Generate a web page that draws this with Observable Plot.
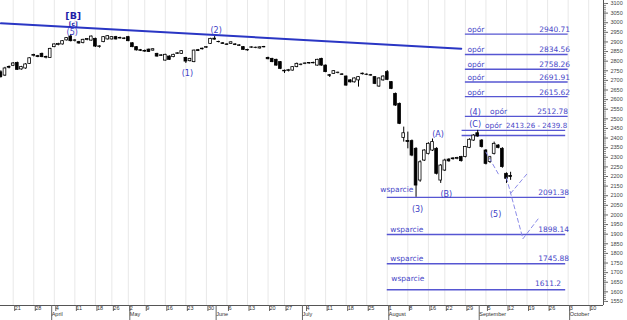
<!DOCTYPE html>
<html><head><meta charset="utf-8">
<script src="https://cdn.jsdelivr.net/npm/d3@7"></script>
<script src="https://cdn.jsdelivr.net/npm/@observablehq/plot@0.6"></script>
<style>
html,body{margin:0;padding:0;background:#fff;}
#chart{width:627px;height:320px;overflow:hidden;}
</style></head><body><div id="chart"></div>
<script>
// ---------- trading calendar (GPW 2011) ----------
const holidays = ["2011-04-22","2011-04-25","2011-05-03","2011-06-23","2011-08-15"];
const days = d3.timeDay.range(new Date(2011,2,16), new Date(2011,9,15))
  .filter(d => d.getDay() !== 0 && d.getDay() !== 6)
  .map(d3.timeFormat("%Y-%m-%d"))
  .filter(s => !holidays.includes(s));
const J = new Map(days.map((s, i) => [s, i]));
const jx = s => J.get(s);

// ---------- OHLC (from 2011-03-16, 125 sessions) ----------
const open  = [2742,2725,2770,2776,2790,2757,2762,2786,2828,2826,2838,2818,2817,2873,2884,2887,2908,2928,2906,2899,2894,2910,2907,2916,2874,2899,2913,2913,2925,2921,2918,2925,2893,2873,2857,2853,2860,2855,2838,2830,2803,2824,2821,2838,2838,2817,2800,2795,2857,2862,2870,2890,2917,2900,2893,2887,2890,2887,2882,2873,2858,2870,2869,2866,2872,2817,2812,2807,2795,2750,2749,2751,2769,2780,2786,2788,2791,2777,2812,2777,2727,2734,2738,2731,2720,2700,2690,2700,2732,2730,2727,2717,2668,2700,2743,2691,2630,2578,2401,2385,2384,2344,2179,2283,2318,2335,2344,2179,2231,2288,2290,2292,2301,2301,2349,2387,2425,2387,2335,2275,2318,2361,2344,2214,2203];
const high  = [2750,2768,2775,2793,2795,2773,2787,2818,2836,2830,2842,2826,2867,2890,2893,2907,2923,2939,2912,2903,2914,2918,2931,2920,2880,2928,2933,2928,2929,2925,2922,2929,2896,2876,2861,2858,2863,2865,2841,2834,2836,2828,2836,2844,2855,2820,2815,2858,2861,2868,2876,2919,2928,2904,2897,2891,2901,2891,2886,2876,2862,2875,2873,2875,2877,2821,2815,2810,2798,2754,2757,2772,2790,2786,2791,2793,2795,2810,2815,2780,2731,2751,2743,2735,2723,2704,2713,2720,2738,2734,2731,2720,2713,2724,2751,2694,2634,2582,2457,2431,2390,2350,2282,2340,2376,2395,2350,2262,2290,2293,2298,2300,2305,2357,2396,2418,2440,2392,2340,2305,2379,2366,2350,2219,2222];
const low   = [2712,2720,2760,2772,2752,2753,2758,2783,2822,2818,2818,2812,2815,2870,2880,2884,2905,2900,2900,2888,2890,2906,2904,2871,2868,2896,2910,2910,2910,2915,2912,2901,2870,2853,2850,2846,2845,2852,2821,2825,2800,2804,2818,2835,2835,2788,2796,2792,2850,2858,2866,2887,2910,2895,2887,2882,2887,2881,2877,2856,2852,2866,2865,2863,2869,2807,2792,2774,2756,2736,2744,2748,2766,2776,2782,2784,2786,2774,2774,2740,2715,2731,2734,2726,2670,2686,2686,2665,2728,2725,2722,2678,2664,2696,2699,2652,2565,2470,2379,2344,2303,2092,2170,2278,2312,2330,2208,2164,2226,2274,2285,2287,2275,2297,2345,2383,2404,2348,2260,2268,2312,2344,2243,2164,2180];
const close = [2717,2762,2766,2788,2755,2769,2783,2815,2832,2822,2821,2822,2864,2887,2889,2904,2920,2904,2908,2892,2911,2915,2928,2876,2877,2925,2930,2925,2913,2918,2916,2904,2873,2856,2854,2850,2848,2862,2824,2828,2833,2807,2833,2841,2852,2798,2812,2855,2853,2865,2873,2916,2912,2899,2890,2885,2898,2884,2880,2859,2856,2872,2870,2872,2874,2810,2795,2777,2760,2747,2753,2769,2786,2782,2788,2790,2789,2807,2777,2743,2724,2748,2740,2729,2673,2690,2710,2717,2735,2729,2725,2682,2710,2720,2703,2656,2569,2474,2425,2380,2309,2153,2274,2335,2370,2379,2214,2257,2283,2279,2294,2296,2280,2353,2391,2413,2408,2353,2266,2300,2370,2349,2249,2188,2198];
const candleDates = days.slice(0, open.length);

// ---------- axis ticks ----------
const weekDates  = ["2011-03-21","2011-03-28","2011-04-04","2011-04-11","2011-04-18","2011-04-26","2011-05-02","2011-05-09","2011-05-16","2011-05-23","2011-05-30","2011-06-06","2011-06-13","2011-06-20","2011-06-27","2011-07-04","2011-07-11","2011-07-18","2011-07-25","2011-08-01","2011-08-08","2011-08-16","2011-08-22","2011-08-29","2011-09-05","2011-09-12","2011-09-19","2011-09-26","2011-10-03","2011-10-10"];
const weekLabels = ["21","28","4","11","18","26","2","9","16","23","30","6","13","20","27","4","11","18","25","1","8","16","22","29","5","12","19","26","3","10"];
const monthDates  = ["2011-04-01","2011-05-02","2011-06-01","2011-07-01","2011-08-01","2011-09-01","2011-10-03"];
const monthLabels = ["April","May","June","July","August","September","October"];
const yMajor = d3.range(1550, 3101, 50);
const yMinor = d3.range(1550, 3101, 10);

// ---------- annotations ----------
const resistance = [2940.71, 2834.56, 2758.26, 2691.91, 2615.62, 2512.78];
const resistanceBand = [2413.26, 2439.8];
const support = [2091.38, 1898.14, 1745.88, 1611.2];
const trendDates = ["2011-03-16","2011-08-26"];
const trendValues = [2997, 2865];
const waveLabels = ["[B]","[c]","(5)","(1)","(2)","(3)","(A)","(B)","(C)","(4)","(5)"];
const waveDates  = ["2011-04-08","2011-04-08","2011-04-08","2011-05-23","2011-06-01","2011-08-10","2011-08-18","2011-08-22","2011-08-31","2011-08-31","2011-09-07"];
const waveValues = [3036, 2995, 2950, 2738, 2961, 2031, 2419, 2107, 2471, 2533, 2002];
const projPath  = [0,0,1,1,1,2,2];
const projDates = ["2011-09-05","2011-09-08","2011-09-12","2011-09-16","2011-09-22","2011-09-13","2011-09-19"];
const projValues = [2327, 2214, 2193, 1876, 1988, 2112, 2214];

// ---------- build ----------
const candles = candleDates.map((d, i) => ({j: jx(d), o: open[i], h: high[i], l: low[i], c: close[i]}));
const weekJ = weekDates.map(jx), monthJ = monthDates.map(jx);
const weekLab = new Map(weekJ.map((j, i) => [j, weekLabels[i]]));
const monthLab = new Map(monthJ.map((j, i) => [j, monthLabels[i]]));
const trend = trendDates.map((d, i) => ({j: jx(d), v: trendValues[i]}));
const waves = waveLabels.map((t, i) => ({t, j: jx(waveDates[i]), v: waveValues[i]}));
const proj = projDates.map((d, i) => ({p: projPath[i], j: jx(d), v: projValues[i]}));

const XMAX = 146.6;
const ANN = "#4848c8", LINE = "#5656d2", TREND = "#2a36c4";
const F = "DejaVu Sans";
const resStart = jx("2011-08-29"), lvlEnd = jx("2011-10-03"), supStart = jx("2011-08-01");

const txt = (data, o) => Plot.text(data, {fontFamily: F, fontSize: 7.5, fill: ANN, ...o});

const marks = [
  Plot.ruleX(weekJ, {stroke: "#e8e8e8", strokeWidth: 1}),
  // trend line
  Plot.line(trend, {x: "j", y: "v", stroke: TREND, strokeWidth: 2}),
  // levels
  Plot.ruleY(resistance, {x1: resStart, x2: lvlEnd, stroke: LINE, strokeWidth: 1.4}),
  Plot.ruleY(resistanceBand, {x1: resStart - 0.8, x2: lvlEnd - 0.6, stroke: LINE, strokeWidth: 1.4}),
  Plot.ruleY(support, {x1: supStart, x2: lvlEnd - 0.6, stroke: LINE, strokeWidth: 1.4}),
  // candles
  Plot.ruleX(candles, {x: "j", y1: "l", y2: "h", stroke: "#000", strokeWidth: 1}),
  Plot.rect(candles, {x1: d => d.j - 0.33, x2: d => d.j + 0.33, y1: "o", y2: "c",
    fill: d => d.c >= d.o ? "#fff" : "#000", stroke: "#000", strokeWidth: 0.8}),
  // projection
  Plot.line(proj, {x: "j", y: "v", z: "p", stroke: "#8c8ce8", strokeWidth: 1, strokeDasharray: "4,3"}),
  // resistance labels
  txt(resistance.slice(0, 5), {x: resStart, y: d => d, text: () => "opór", textAnchor: "start", dx: 2, dy: -4.5}),
  txt(resistance.slice(0, 5), {x: lvlEnd, y: d => d, text: d => String(d), textAnchor: "end", dx: 2, dy: -4.5}),
  txt([resistance[5]], {x: jx("2011-09-06"), y: d => d, text: () => "opór", textAnchor: "start", dy: -4.5}),
  txt([resistance[5]], {x: lvlEnd, y: d => d, text: d => String(d), textAnchor: "end", dy: -4.5}),
  txt([resistanceBand[1]], {x: jx("2011-09-05"), y: d => d, text: () => "opór", textAnchor: "start", dx: -1, dy: -4.5}),
  txt([resistanceBand[1]], {x: lvlEnd, y: d => d, text: () => `${resistanceBand[0]} - ${resistanceBand[1]}`, textAnchor: "end", dx: -1, dy: -4.5, fontSize: 7.1}),
  // support labels
  txt([support[0]], {x: supStart, y: d => d, text: () => "wsparcie", textAnchor: "start", dx: -7, dy: -8}),
  txt(support.slice(1, 3), {x: supStart, y: d => d, text: () => "wsparcie", textAnchor: "start", dx: 3, dy: -5}),
  txt([support[3]], {x: supStart, y: d => d, text: () => "wsparcie", textAnchor: "start", dx: 4, dy: -11}),
  txt(support.slice(0, 3), {x: lvlEnd, y: d => d, text: d => String(d), textAnchor: "end", dx: 1, dy: -5}),
  txt([support[3]], {x: lvlEnd, y: d => d, text: d => String(d), textAnchor: "end", dx: -7, dy: -6}),
  // wave labels
  Plot.text(waves.filter(d => d.t === "[B]"), {x: "j", y: "v", text: "t", dx: 2.5, fontFamily: F, fontSize: 9.5, fontWeight: "bold", fill: "#1e1ea8"}),
  Plot.text(waves.filter(d => d.t === "[c]"), {x: "j", y: "v", text: "t", dx: 2.5, fontFamily: F, fontSize: 6, fontWeight: "bold", fill: "#1e1ea8"}),
  Plot.text(waves.filter(d => d.t[0] === "("), {x: "j", y: "v", text: "t", dx: 1.5, fontFamily: F, fontSize: 8, fill: "#3c3cc4"}),
  // axes
  Plot.ruleY([1529], {stroke: "#555", strokeWidth: 1}),
  Plot.ruleX([XMAX], {stroke: "#555", strokeWidth: 1}),
  Plot.axisX({ticks: weekJ, tickSize: 6, tickPadding: -5, tickFormat: d => weekLab.get(d), textAnchor: "start", dx: 1.5,
    fontSize: 5.5, fontFamily: "Liberation Sans", fill: "#333", stroke: "#666", label: null}),
  Plot.axisX({ticks: monthJ, tickSize: 15, tickPadding: -8, tickFormat: d => monthLab.get(d), textAnchor: "start", dx: 1.5,
    fontSize: 5.5, fontFamily: "Liberation Sans", fill: "#333", stroke: "#666", label: null}),
  Plot.axisY({anchor: "right", ticks: yMajor, tickSize: 4, tickPadding: 3, tickFormat: d => String(d), fontSize: 5.5, fontFamily: "Liberation Sans",
    fill: "#444", stroke: "#666", label: null}),
  Plot.axisY({anchor: "right", ticks: yMinor, tickSize: 2, tickFormat: () => "", stroke: "#888", label: null})
];

const chart = Plot.plot({
  width: 627, height: 320,
  marginLeft: 0, marginRight: 24, marginTop: 0, marginBottom: 15,
  x: {type: "linear", domain: [-0.09, XMAX], axis: null},
  y: {domain: [1529, 3115.6], axis: null},
  style: {fontFamily: F, background: "#fff", overflow: "visible"},
  marks
});
document.getElementById("chart").appendChild(chart);
</script>
</body></html>
